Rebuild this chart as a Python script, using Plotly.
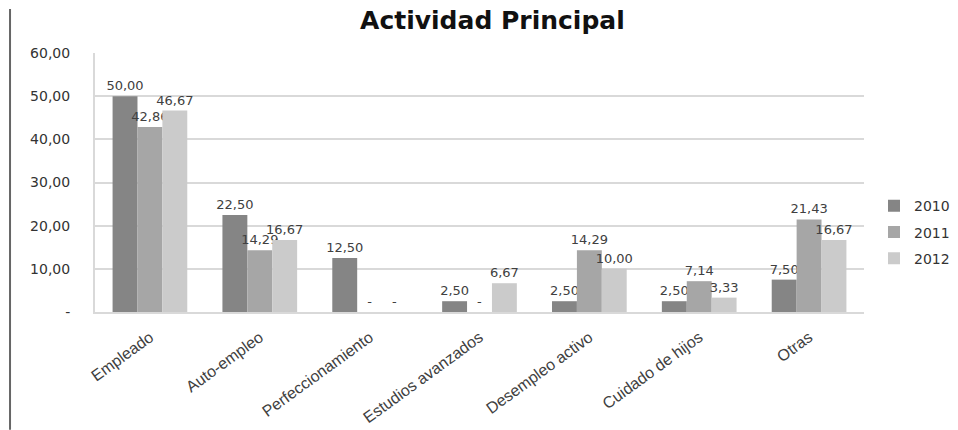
import plotly.graph_objects as go

categories = ["Empleado", "Auto-empleo", "Perfeccionamiento", "Estudios avanzados",
              "Desempleo activo", "Cuidado de hijos", "Otras"]
years = ["2010", "2011", "2012"]
v2010 = [50.00, 22.50, 12.50, 2.50, 2.50, 2.50, 7.50]
v2011 = [42.86, 14.29, 0.00, 0.00, 14.29, 7.14, 21.43]
v2012 = [46.67, 16.67, 0.00, 6.67, 10.00, 3.33, 16.67]
colors = ["#858585", "#a6a6a6", "#cbcbcb"]
y_ticks = [0, 10, 20, 30, 40, 50, 60]
y_ticktext = ["-", "10,00", "20,00", "30,00", "40,00", "50,00", "60,00"]


def fmt(v):
    return "-" if v == 0 else f"{v:.2f}".replace(".", ",")


fig = go.Figure()
for name, vals, col in zip(years, [v2010, v2011, v2012], colors):
    fig.add_trace(go.Bar(
        name=name, x=categories, y=vals, marker=dict(color=col, line=dict(width=0)),
        text=[fmt(v) for v in vals], textposition="outside", cliponaxis=False,
        constraintext="none", textangle=0, legendgroup=name,
        textfont=dict(family="DejaVu Sans", size=13, color="#404040"),
    ))

fig.update_layout(
    width=958, height=430,
    margin=dict(l=95, r=94, t=53, b=118, autoexpand=False),
    paper_bgcolor="white", plot_bgcolor="white",
    barmode="group", bargap=0.32, bargroupgap=0,
    title=dict(text="<b>Actividad Principal</b>", x=0.514, xanchor="center",
               y=0.953, yanchor="middle",
               font=dict(family="DejaVu Sans", size=25, color="#111111")),
    legend=dict(x=1.013, y=0.47, xanchor="left", yanchor="top",
                font=dict(family="DejaVu Sans", size=14, color="#333333"),
                tracegroupgap=5, itemwidth=30),
)
fig.update_yaxes(range=[0, 60], tickvals=y_ticks, ticktext=y_ticktext, automargin=False,
                 showgrid=True, gridcolor="#d9d9d9", gridwidth=2,
                 showline=True, linecolor="#d9d9d9", linewidth=2,
                 zeroline=False, ticks="", ticklabelstandoff=20,
                 tickfont=dict(family="DejaVu Sans", size=14, color="#333333"))
fig.update_xaxes(tickangle=-36, showline=True, linecolor="#d9d9d9", linewidth=2, automargin=False,
                 ticks="", ticklabelstandoff=8,
                 tickfont=dict(family="Liberation Sans", size=16, color="#404040"))
fig.add_shape(type="line", xref="paper", yref="paper",
              x0=-0.1105, x1=-0.1105, y0=-0.455, y1=1.17,
              line=dict(color="#666666", width=2))

fig.write_html("out.html", config={"displayModeBar": False},
               post_script="document.body.style.margin='0';")
